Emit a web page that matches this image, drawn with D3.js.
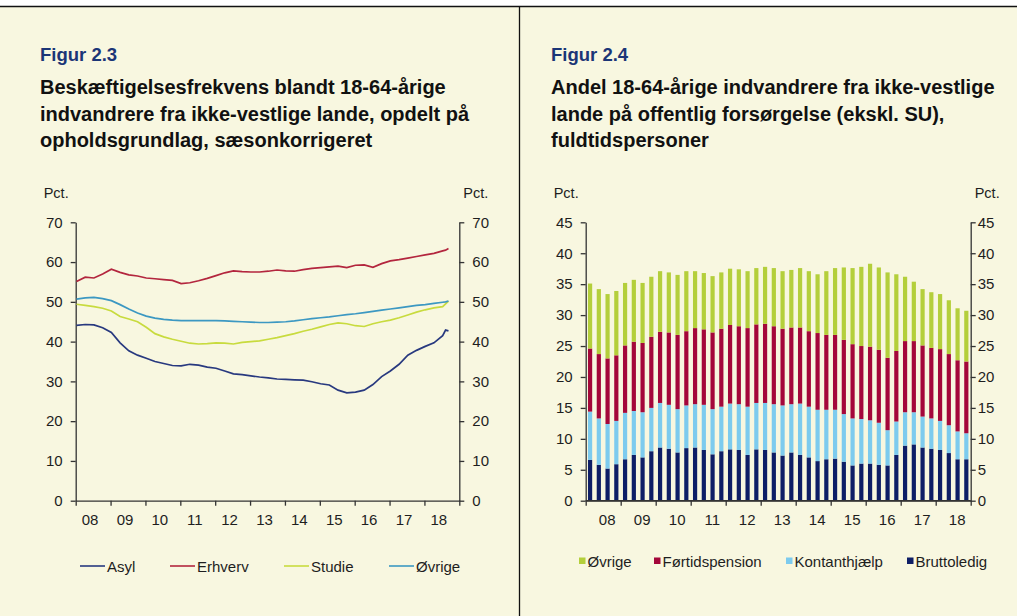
<!DOCTYPE html>
<html lang="da">
<head>
<meta charset="UTF-8">
<title>Figur 2.3 og 2.4</title>
<style>
    body { margin: 0; background: #fff; }
    svg { display: block; font-family: "Liberation Sans", Arial, sans-serif; }
</style>
</head>
<body>
<script src="https://cdn.jsdelivr.net/npm/d3@7"></script>
<script>
    var width = 1017,
        height = 616;

    // Figur 2.3: beskæftigelsesfrekvens, pct. (kvartalsvis aflæst + de sidste måneder)
    var periods = ["2008-01","2008-04","2008-07","2008-10","2009-01","2009-04","2009-07","2009-10",
        "2010-01","2010-04","2010-07","2010-10","2011-01","2011-04","2011-07","2011-10",
        "2012-01","2012-04","2012-07","2012-10","2013-01","2013-04","2013-07","2013-10",
        "2014-01","2014-04","2014-07","2014-10","2015-01","2015-04","2015-07","2015-10",
        "2016-01","2016-04","2016-07","2016-10","2017-01","2017-04","2017-07","2017-10",
        "2018-01","2018-04","2018-07","2018-08","2018-09"];
    var asyl = [44.1,44.3,44.2,43.5, 42.3,39.7,37.7,36.6, 35.8,35.0,34.5,34.0, 33.9,34.3,34.1,33.6,
        33.3,32.6,31.9,31.7, 31.4,31.1,30.9,30.6, 30.5,30.4,30.3,29.9, 29.4,29.1,27.8,27.1,
        27.3,27.8,29.2,31.2, 32.6,34.3,36.6,37.8, 38.8,39.7,41.5,42.9,42.7];
    var erhverv = [55.1,56.2,56.0,57.0, 58.2,57.4,56.8,56.5, 56.0,55.8,55.6,55.4, 54.6,54.8,55.3,55.9,
        56.6,57.3,57.8,57.6, 57.5,57.5,57.7,58.0, 57.8,57.7,58.1,58.4, 58.6,58.8,59.0,58.6,
        59.2,59.3,58.7,59.6, 60.3,60.6,61.0,61.4, 61.8,62.2,62.8,63.0,63.4];
    var studie = [49.4,49.1,48.8,48.4, 47.7,46.3,45.7,45.0, 43.6,42.0,41.2,40.6, 40.1,39.6,39.4,39.5,
        39.7,39.6,39.4,39.8, 40.0,40.2,40.6,41.0, 41.5,42.0,42.6,43.1, 43.7,44.3,44.7,44.5,
        44.0,43.8,44.5,45.0, 45.4,46.0,46.7,47.4, 48.0,48.5,48.8,49.5,50.2];
    var ovrige = [50.7,51.0,51.1,50.8, 50.3,49.3,48.2,47.2, 46.4,45.9,45.6,45.4, 45.3,45.3,45.3,45.3,
        45.3,45.2,45.1,45.0, 44.9,44.8,44.8,44.9, 45.0,45.2,45.5,45.8, 46.0,46.2,46.5,46.8,
        47.0,47.3,47.6,47.9, 48.2,48.5,48.8,49.1, 49.3,49.6,49.9,50.0,50.2];

    // Figur 2.4: andel på offentlig forsørgelse, pct.
    var quarters = ["08K1","08K2","08K3","08K4","09K1","09K2","09K3","09K4","10K1","10K2","10K3","10K4",
        "11K1","11K2","11K3","11K4","12K1","12K2","12K3","12K4","13K1","13K2","13K3","13K4",
        "14K1","14K2","14K3","14K4","15K1","15K2","15K3","15K4","16K1","16K2","16K3","16K4",
        "17K1","17K2","17K3","17K4","18K1","18K2","18K3","18K4"];
    var bruttoledig = [6.6,5.8,5.2,5.9, 6.7,7.4,7.0,8.0, 8.6,8.4,7.8,8.5, 8.6,8.2,7.5,8.0, 8.3,8.2,7.4,8.3,
        8.2,7.8,7.3,7.8, 7.4,7.0,6.4,6.7, 6.8,6.3,5.7,6.0, 6.0,5.8,5.7,7.4, 8.9,9.1,8.6,8.4, 8.2,7.7,6.7,6.7];
    var kontanthjaelp = [7.8,7.5,7.2,7.0, 7.5,7.1,7.3,7.0, 7.2,7.1,7.0,6.9, 7.0,7.3,7.3,7.2, 7.4,7.4,7.8,7.5,
        7.6,7.8,8.1,7.8, 8.3,8.2,8.3,8.0, 7.9,7.7,7.6,7.2, 7.0,6.8,5.7,5.4, 5.4,5.2,5.0,4.9, 4.7,4.5,4.5,4.2];
    var fortidspension = [10.2,10.4,10.6,10.6, 10.9,11.2,11.2,11.5, 11.5,11.7,12.0,12.0, 12.3,12.2,12.4,12.6,
        12.7,12.6,12.7,12.7, 12.8,12.6,12.4,12.4, 12.3,12.2,12.4,12.1, 12.1,12.0,12.0,11.8,
        11.9,11.8,11.7,11.4, 11.5,11.5,11.5,11.4, 11.6,11.5,11.5,11.6];
    var ovrigeYdelser = [10.5,10.5,10.4,10.4, 10.1,10.0,9.7,9.7, 9.8,9.7,9.7,9.7, 9.2,9.1,9.1,9.1, 9.1,9.2,9.2,9.1,
        9.2,9.4,9.3,9.3, 9.6,9.7,9.5,10.3, 10.8,11.7,12.3,12.8, 13.4,13.3,13.8,12.4, 10.4,9.6,9.1,9.0,
        8.9,8.7,8.4,8.2];

    var years = [2008,2009,2010,2011,2012,2013,2014,2015,2016,2017,2018];
    var yearLabels = ["08","09","10","11","12","13","14","15","16","17","18"];
    var ticks23 = [0,10,20,30,40,50,60,70];
    var ticks24 = [0,5,10,15,20,25,30,35,40,45];

    var bg = "#f8f7e0",
        axisColor = "#333",
        textColor = "#1e1e1e";

    var svg = d3.select("body").append("svg")
        .attr("width", width)
        .attr("height", height);

    // baggrund og rammer
    svg.append("rect").attr("x", 0).attr("y", 6).attr("width", width).attr("height", height - 6).attr("fill", bg);
    svg.append("line").attr("x1", 0).attr("x2", width).attr("y1", 6.5).attr("y2", 6.5)
        .attr("stroke", "#111").attr("stroke-width", 1.3);
    svg.append("line").attr("x1", 519.5).attr("x2", 519.5).attr("y1", 6).attr("y2", height)
        .attr("stroke", "#111").attr("stroke-width", 1.3);

    function title(x, fig, lines) {
        svg.append("text").attr("x", x).attr("y", 61)
            .attr("font-size", "18.5px").attr("font-weight", "bold").attr("fill", "#1b3577")
            .text(fig);
        lines.forEach(function(l, i){
            svg.append("text").attr("x", x).attr("y", 94 + i * 26.5)
                .attr("font-size", "20px").attr("font-weight", "bold").attr("fill", "#111")
                .text(l);
        });
    }
    title(40, "Figur 2.3", ["Beskæftigelsesfrekvens blandt 18-64-årige",
        "indvandrere fra ikke-vestlige lande, opdelt på", "opholdsgrundlag, sæsonkorrigeret"]);
    title(551, "Figur 2.4", ["Andel 18-64-årige indvandrere fra ikke-vestlige",
        "lande på offentlig forsørgelse (ekskl. SU),", "fuldtidspersoner"]);

    function styleAxis(g) {
        g.select(".domain").attr("stroke", axisColor).attr("stroke-width", 1.3);
        g.selectAll(".tick line").attr("stroke", axisColor).attr("stroke-width", 1.3);
        g.selectAll(".tick text").attr("fill", textColor).attr("font-size", "15px")
            .attr("font-family", "Liberation Sans, Arial, sans-serif");
    }

    // fælles aksetegning
    function frame(left, right, top, bottom, yDomain, yTicks, rightPad, labelShift) {
        var y = d3.scaleLinear().domain(yDomain).range([bottom, top]);
        var xYear = d3.scaleLinear().domain([2008, 2019]).range([left, right]);

        var gl = svg.append("g").attr("transform", "translate(" + left + ",0)")
            .call(d3.axisLeft(y).tickValues(yTicks).tickSize(5).tickSizeOuter(0).tickPadding(8));
        styleAxis(gl);
        var gr = svg.append("g").attr("transform", "translate(" + right + ",0)")
            .call(d3.axisRight(y).tickValues(yTicks).tickSize(5).tickSizeOuter(0).tickPadding(rightPad));
        styleAxis(gr);
        var gx = svg.append("g").attr("transform", "translate(0," + bottom + ")")
            .call(d3.axisBottom(xYear).tickValues(d3.range(2008, 2020)).tickSize(5).tickSizeOuter(0).tickFormat(""));
        styleAxis(gx);

        svg.append("g").selectAll("text").data(years).enter().append("text")
            .attr("x", function(d){ return xYear(d + 0.5) + labelShift; })
            .attr("y", bottom + 24.5)
            .attr("text-anchor", "middle").attr("font-size", "15px").attr("fill", textColor)
            .text(function(d, i){ return yearLabels[i]; });

        svg.append("text").attr("x", left - 32).attr("y", 198).attr("font-size", "14.5px")
            .attr("fill", textColor).text("Pct.");
        svg.append("text").attr("x", right + 4).attr("y", 198).attr("font-size", "14.5px")
            .attr("fill", textColor).text("Pct.");
        return {y: y, xYear: xYear};
    }

    // ---------- Figur 2.3 ----------
    var f3 = frame(75.7, 459.3, 222.3, 500.7, [0, 70], ticks23, 8, -3);
    var tYear = periods.map(function(p){
        var parts = p.split("-");
        return +parts[0] + (+parts[1] - 1) / 12;
    });

    var lineSeries = [
        {name: "Asyl", values: asyl, color: "#28397f"},
        {name: "Erhverv", values: erhverv, color: "#b3263e"},
        {name: "Studie", values: studie, color: "#c8db3e"},
        {name: "Øvrige", values: ovrige, color: "#3c98c2"}
    ];

    var line = d3.line()
        .x(function(d){ return f3.xYear(d.t) + 0.8; })
        .y(function(d){ return f3.y(d.v); });

    lineSeries.forEach(function(s){
        var pts = s.values.map(function(v, i){ return {t: tYear[i], v: v}; });
        svg.append("path").datum(pts)
            .attr("fill", "none").attr("stroke", s.color).attr("stroke-width", 1.7)
            .attr("d", line);
    });

    var legend3X = [80, 170, 284, 389];
    lineSeries.forEach(function(s, i){
        var g = svg.append("g").attr("transform", "translate(" + legend3X[i] + ",566)");
        g.append("line").attr("x1", 0).attr("x2", 25).attr("y1", 0).attr("y2", 0)
            .attr("stroke", s.color).attr("stroke-width", 1.6);
        g.append("text").attr("x", 27).attr("y", 5.5).attr("font-size", "15px").attr("fill", textColor)
            .text(s.name);
    });

    // ---------- Figur 2.4 ----------
    var f4 = frame(585.7, 970.7, 222.3, 500.7, [0, 45], ticks24, 2, 4);
    var xQ = d3.scaleBand().domain(quarters).range([585.7, 970.7]).paddingInner(0.52).paddingOuter(0.26);

    var barKeys = ["bruttoledig", "kontanthjaelp", "fortidspension", "ovrige"];
    var barColors = {bruttoledig: "#0e1e66", kontanthjaelp: "#7dcbee", fortidspension: "#a4073a", ovrige: "#b4cf3b"};
    var table = quarters.map(function(q, i){
        return {q: q, bruttoledig: bruttoledig[i], kontanthjaelp: kontanthjaelp[i],
            fortidspension: fortidspension[i], ovrige: ovrigeYdelser[i]};
    });
    var stacked = d3.stack().keys(barKeys)(table);

    svg.append("g").selectAll("g").data(stacked).enter().append("g")
        .attr("fill", function(d){ return barColors[d.key]; })
        .selectAll("rect").data(function(d){ return d; }).enter().append("rect")
        .attr("x", function(d){ return xQ(d.data.q); })
        .attr("width", xQ.bandwidth())
        .attr("y", function(d){ return f4.y(d[1]); })
        .attr("height", function(d){ return f4.y(d[0]) - f4.y(d[1]); });

    // aksen tegnes oven på søjlerne
    svg.append("line").attr("x1", 585.7).attr("x2", 970.7).attr("y1", 500.7).attr("y2", 500.7)
        .attr("stroke", axisColor).attr("stroke-width", 1.3);

    var legend4 = [
        {name: "Øvrige", key: "ovrige", x: 579},
        {name: "Førtidspension", key: "fortidspension", x: 654},
        {name: "Kontanthjælp", key: "kontanthjaelp", x: 786},
        {name: "Bruttoledig", key: "bruttoledig", x: 907}
    ];
    legend4.forEach(function(l){
        var g = svg.append("g").attr("transform", "translate(" + l.x + ",561)");
        g.append("rect").attr("x", 0).attr("y", -3.5).attr("width", 6.5).attr("height", 6.5)
            .attr("fill", barColors[l.key]);
        g.append("text").attr("x", 8.5).attr("y", 5.5).attr("font-size", "15px").attr("fill", textColor)
            .text(l.name);
    });
</script>
</body>
</html>
